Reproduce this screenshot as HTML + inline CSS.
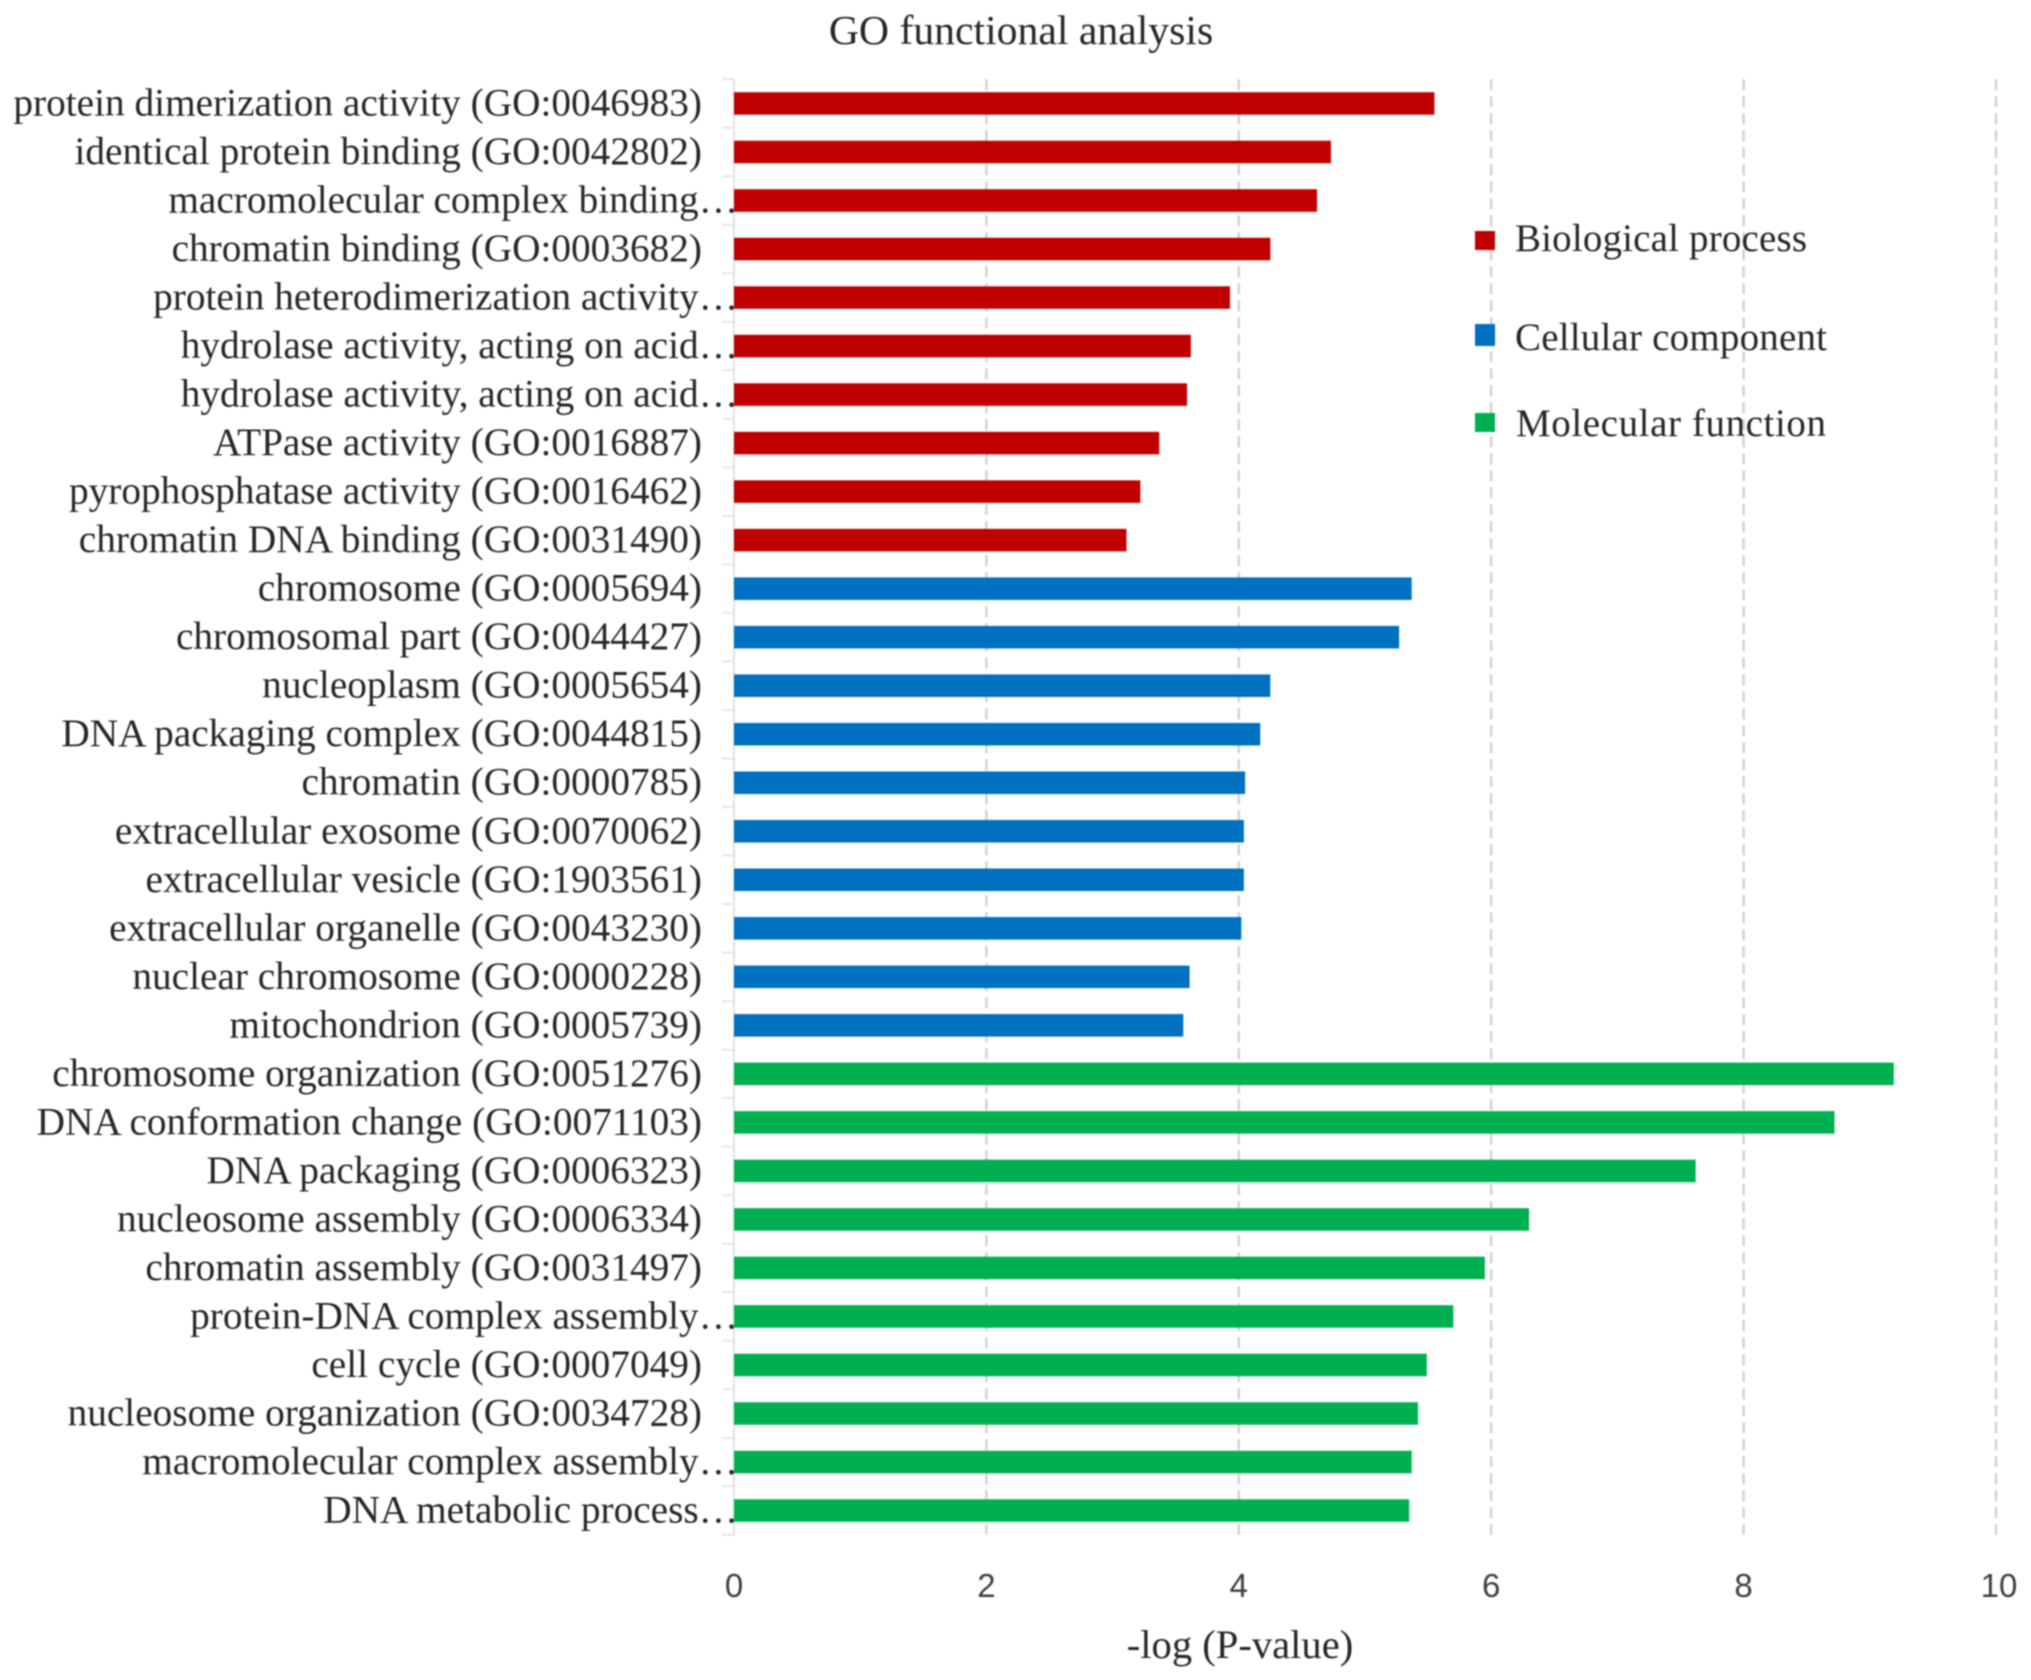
<!DOCTYPE html>
<html lang="en">
<head>
<meta charset="utf-8">
<title>GO functional analysis</title>
<style>
html,body{margin:0;padding:0;background:#fff;}
#chart{display:block;width:2031px;height:1680px;filter:blur(0.7px);}
.serif{font-family:"Liberation Serif",serif;fill:#262626;}
.tick{font-family:"Liberation Sans",sans-serif;fill:#404040;font-size:33px;}
</style>
</head>
<body>
<svg id="chart" xmlns="http://www.w3.org/2000/svg" width="2031" height="1680" viewBox="0 0 2031 1680">
  <rect x="0" y="0" width="2031" height="1680" fill="#fff"/>
  <g id="grid"></g>
  <g id="yaxis"></g>
  <g id="bars"></g>
  <g id="ylabels"></g>
  <g id="xlabels"></g>
  <text class="serif" x="1021" y="44" font-size="41.7" text-anchor="middle">GO functional analysis</text>
  <text class="serif" x="1240" y="1658" font-size="40.6" text-anchor="middle">-log (P-value)</text>
  <g>
    <g>
      <rect x="1475" y="231" width="20" height="19" fill="#C00000"/>
      <text class="serif" x="1515" y="251" font-size="39" textLength="292" lengthAdjust="spacing">Biological process</text>
    </g>
    <g>
      <rect x="1475" y="324" width="20" height="22" fill="#0070C0"/>
      <text class="serif" x="1515" y="350" font-size="39" textLength="312" lengthAdjust="spacing">Cellular component</text>
    </g>
    <g>
      <rect x="1475" y="413" width="20" height="19" fill="#00B050"/>
      <text class="serif" x="1516" y="436" font-size="39" textLength="310" lengthAdjust="spacing">Molecular function</text>
    </g>
  </g>
</svg>
<script>
var categories = [
  "protein dimerization activity (GO:0046983)",
  "identical protein binding (GO:0042802)",
  "macromolecular complex binding…",
  "chromatin binding (GO:0003682)",
  "protein heterodimerization activity…",
  "hydrolase activity, acting on acid…",
  "hydrolase activity, acting on acid…",
  "ATPase activity (GO:0016887)",
  "pyrophosphatase activity (GO:0016462)",
  "chromatin DNA binding (GO:0031490)",
  "chromosome (GO:0005694)",
  "chromosomal part (GO:0044427)",
  "nucleoplasm (GO:0005654)",
  "DNA packaging complex (GO:0044815)",
  "chromatin (GO:0000785)",
  "extracellular exosome (GO:0070062)",
  "extracellular vesicle (GO:1903561)",
  "extracellular organelle (GO:0043230)",
  "nuclear chromosome (GO:0000228)",
  "mitochondrion (GO:0005739)",
  "chromosome organization (GO:0051276)",
  "DNA conformation change (GO:0071103)",
  "DNA packaging (GO:0006323)",
  "nucleosome assembly (GO:0006334)",
  "chromatin assembly (GO:0031497)",
  "protein-DNA complex assembly…",
  "cell cycle (GO:0007049)",
  "nucleosome organization (GO:0034728)",
  "macromolecular complex assembly…",
  "DNA metabolic process…"
];
var biologicalProcess = [5.55, 4.73, 4.62, 4.25, 3.93, 3.62, 3.59, 3.37, 3.22, 3.11];
var cellularComponent = [5.37, 5.27, 4.25, 4.17, 4.05, 4.04, 4.04, 4.02, 3.61, 3.56];
var molecularFunction = [9.19, 8.72, 7.62, 6.30, 5.95, 5.70, 5.49, 5.42, 5.37, 5.35];
var xTickValues = [0, 2, 4, 6, 8, 10];

var NS = 'http://www.w3.org/2000/svg';
var xMin = 0, xMax = 10, plotLeft = 734, plotRight = 1996, plotTop = 79.2, plotBottom = 1534.8;
var barHeight = 22.5;
var seriesColors = ['#C00000', '#0070C0', '#00B050'];
var allSeries = [biologicalProcess, cellularComponent, molecularFunction];

function xScale(v) { return plotLeft + (v - xMin) / (xMax - xMin) * (plotRight - plotLeft); }
function bandTop(i) { return plotTop + i * (plotBottom - plotTop) / categories.length; }
function bandCenter(i) { return bandTop(i) + (plotBottom - plotTop) / categories.length / 2; }
function make(tag, attrs, parent) {
  var el = document.createElementNS(NS, tag);
  for (var k in attrs) { el.setAttribute(k, attrs[k]); }
  parent.appendChild(el);
  return el;
}

var gridGroup = document.getElementById('grid');
var xLabelGroup = document.getElementById('xlabels');
xTickValues.forEach(function (t) {
  var x = xScale(t);
  if (t !== 0) {
    var line = make('line', { x1: x, x2: x, y1: plotTop, y2: plotBottom, stroke: '#d2d2d2', 'stroke-width': 2.5, 'stroke-dasharray': '11 6' }, gridGroup);
    
    
  }
  var label = make('text', { x: x + (t === 10 ? 3 : 0), y: 1597, 'text-anchor': 'middle', 'class': 'tick' }, xLabelGroup);
  label.textContent = String(t);
  
  
});

var yAxisGroup = document.getElementById('yaxis');
var axisLine = make('line', { x1: plotLeft, x2: plotLeft, y1: plotTop, y2: plotBottom, stroke: '#e2e2e2', 'stroke-width': 2 }, yAxisGroup);


for (var b = 0; b <= categories.length; b++) {
  var tickMark = make('line', { x1: plotLeft - 12, x2: plotLeft, y1: bandTop(b), y2: bandTop(b), stroke: '#e6e6e6', 'stroke-width': 2 }, yAxisGroup);
  
  
}

var barGroup = document.getElementById('bars');
var labelGroup = document.getElementById('ylabels');
var rowIndex = 0;
allSeries.forEach(function (series, s) {
  series.forEach(function (value) {
    var cy = bandCenter(rowIndex);
    var bar = make('rect', { x: xScale(0), y: cy - barHeight / 2, width: xScale(value) - xScale(0), height: barHeight, fill: seriesColors[s] }, barGroup);
    
    
    var name = categories[rowIndex];
    var truncated = name.charAt(name.length - 1) === '…';
    var label = make('text', { x: truncated ? 738 : 702, y: cy + 12, 'text-anchor': 'end', 'class': 'serif', 'font-size': 39.3 }, labelGroup);
    label.textContent = name;
    
    
    rowIndex++;
  });
});
</script>
</body>
</html>
